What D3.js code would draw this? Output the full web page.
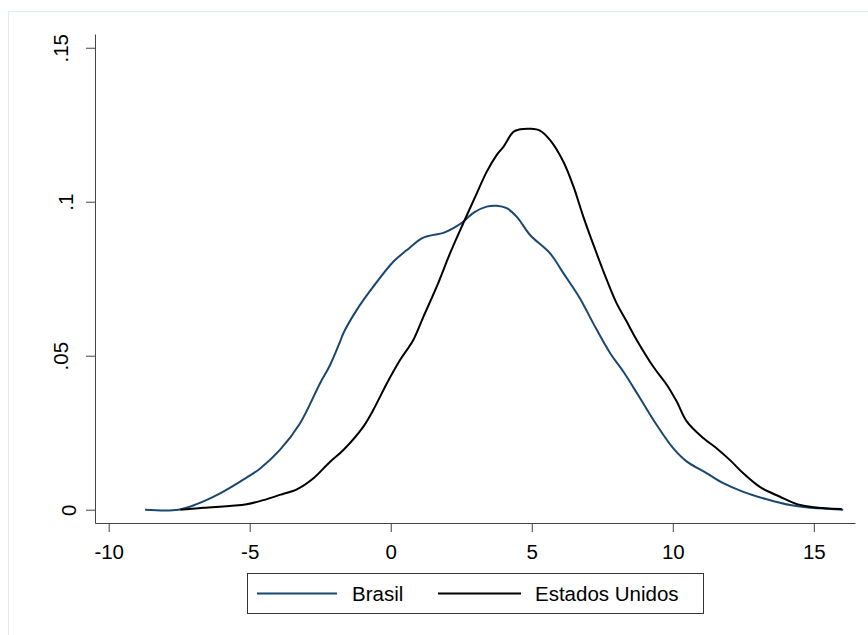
<!DOCTYPE html>
<html>
<head>
<meta charset="utf-8">
<script src="https://cdn.jsdelivr.net/npm/d3@7"></script>
<style>
  body { margin: 0; background: #fff; }
  svg { display: block; font-family: "Liberation Sans", Arial, sans-serif; }
</style>
</head>
<body>
<div id="chart"></div>
<script>
// kernel density, Brasil
const brasilX = [-8.71, -7.53, -6.88, -6.05, -5.34, -4.63, -3.93, -3.22, -2.51, -2.15, -1.80, -1.68, -1.21, -0.62, 0.09, 0.57, 1.10, 1.39, 1.87, 2.22, 2.57, 2.93, 3.40, 3.76, 4.11, 4.47, 4.94, 5.65, 6.12, 6.71, 7.18, 7.78, 8.25, 8.84, 9.43, 10.02, 10.50, 11.21, 11.79, 12.50, 13.33, 14.16, 14.87, 15.93, 16.04];
const brasilY = [0, 0, 0.0018, 0.0053, 0.0091, 0.0134, 0.0194, 0.0280, 0.0410, 0.0470, 0.0545, 0.0573, 0.0648, 0.0724, 0.0805, 0.0843, 0.0881, 0.0890, 0.0899, 0.0914, 0.0935, 0.0964, 0.0984, 0.0987, 0.0979, 0.0951, 0.0892, 0.0832, 0.0768, 0.0686, 0.0605, 0.0508, 0.0448, 0.0362, 0.0275, 0.0199, 0.0156, 0.0118, 0.0086, 0.0058, 0.0034, 0.0015, 0.0006, 0.0001, 0];
// kernel density, Estados Unidos
const eeuuX = [-7.46, -6.64, -5.11, -4.52, -3.93, -3.33, -2.74, -2.15, -1.68, -0.97, -0.62, -0.14, 0.33, 0.80, 1.16, 1.63, 2.10, 2.57, 3.05, 3.40, 3.76, 4.00, 4.35, 4.59, 4.94, 5.29, 5.65, 6.12, 6.48, 6.83, 7.30, 7.66, 8.01, 8.37, 8.72, 9.31, 9.79, 10.14, 10.50, 11.09, 11.56, 12.03, 12.50, 13.10, 13.80, 14.40, 14.99, 15.99];
const eeuuY = [0, 0.0006, 0.0018, 0.0031, 0.0048, 0.0066, 0.0102, 0.0156, 0.0194, 0.0270, 0.0324, 0.0410, 0.0486, 0.0551, 0.0627, 0.0724, 0.0832, 0.0930, 0.1027, 0.1097, 0.1152, 0.1179, 0.1227, 0.1235, 0.1237, 0.1231, 0.1200, 0.1130, 0.1049, 0.0951, 0.0832, 0.0746, 0.0670, 0.0610, 0.0551, 0.0464, 0.0405, 0.0351, 0.0286, 0.0232, 0.0199, 0.0161, 0.0118, 0.0073, 0.0042, 0.0018, 0.0008, 0.0002];

const xTicks = [-10, -5, 0, 5, 10, 15];
const yTicks = [0, 0.05, 0.1, 0.15];
const yTickLabels = ["0", ".05", ".1", ".15"];
const seriesNames = ["Brasil", "Estados Unidos"];
const seriesColors = ["#1a476f", "#000000"];

const width = 868, height = 635;
const plot = {left: 95, right: 855, top: 34, bottom: 523};
const fontSize = 20.5;

const svg = d3.select("#chart").append("svg")
    .attr("width", width)
    .attr("height", height);

// graph region outline
svg.append("rect")
    .attr("x", 8.5).attr("y", 11.5)
    .attr("width", 900).attr("height", 700)
    .attr("fill", "none")
    .attr("stroke", "#e3ecee");

const x = d3.scaleLinear().domain([-10.486, 16.46]).range([plot.left, plot.right]);
const y = d3.scaleLinear().domain([-0.00432, 0.15446]).range([plot.bottom, plot.top]);

// x axis
const gx = svg.append("g")
    .attr("transform", `translate(0,${plot.bottom})`)
    .call(d3.axisBottom(x).tickValues(xTicks).tickSize(9).tickSizeOuter(0).tickFormat(d3.format("d")));
gx.select(".domain").attr("stroke", "#444");
gx.selectAll(".tick line").attr("stroke", "#444");
gx.selectAll(".tick text")
    .attr("y", 35.5).attr("dy", null)
    .attr("fill", "#000")
    .attr("font-size", fontSize)
    .attr("font-family", "Liberation Sans, Arial, sans-serif")
    .text(d => d < 0 ? "-" + Math.abs(d) : d);

// y axis, labels rotated like Stata (horizontal box right-justified, then turned)
const gy = svg.append("g")
    .attr("transform", `translate(${plot.left},0)`)
    .call(d3.axisLeft(y).tickValues(yTicks).tickSize(9).tickSizeOuter(0)
        .tickFormat((d, i) => yTickLabels[i]));
gy.select(".domain").attr("stroke", "#444");
gy.selectAll(".tick line").attr("stroke", "#444");
gy.selectAll(".tick text")
    .attr("x", null).attr("dy", null)
    .attr("text-anchor", "middle")
    .attr("fill", "#000")
    .attr("font-size", fontSize)
    .attr("font-family", "Liberation Sans, Arial, sans-serif")
    .attr("transform", function() {
        const w = this.getComputedTextLength();
        const bx = 82 - w / 2 - plot.left;
        return `translate(${bx},0) rotate(-90)`;
    });

// density lines
const line = d3.line()
    .x(d => x(d[0]))
    .y(d => y(d[1]))
    .curve(d3.curveCatmullRom.alpha(0.5));

const series = [
    d3.zip(brasilX, brasilY),
    d3.zip(eeuuX, eeuuY)
];

svg.append("g").selectAll("path")
    .data(series)
    .join("path")
    .attr("fill", "none")
    .attr("stroke", (d, i) => seriesColors[i])
    .attr("stroke-width", 2)
    .attr("stroke-linejoin", "round")
    .attr("d", line);

// legend
const legend = svg.append("g");
legend.append("rect")
    .attr("x", 247.5).attr("y", 573.5)
    .attr("width", 456).attr("height", 40)
    .attr("fill", "#fff")
    .attr("stroke", "#333");

const legendItems = [
    {x1: 257, x2: 337, tx: 352},
    {x1: 438, x2: 521, tx: 535}
];
legendItems.forEach((it, i) => {
    legend.append("line")
        .attr("x1", it.x1).attr("x2", it.x2)
        .attr("y1", 593.5).attr("y2", 593.5)
        .attr("stroke", seriesColors[i])
        .attr("stroke-width", 2);
    legend.append("text")
        .attr("x", it.tx).attr("y", 601)
        .attr("font-size", fontSize)
        .attr("fill", "#000")
        .text(seriesNames[i]);
});
</script>
</body>
</html>
